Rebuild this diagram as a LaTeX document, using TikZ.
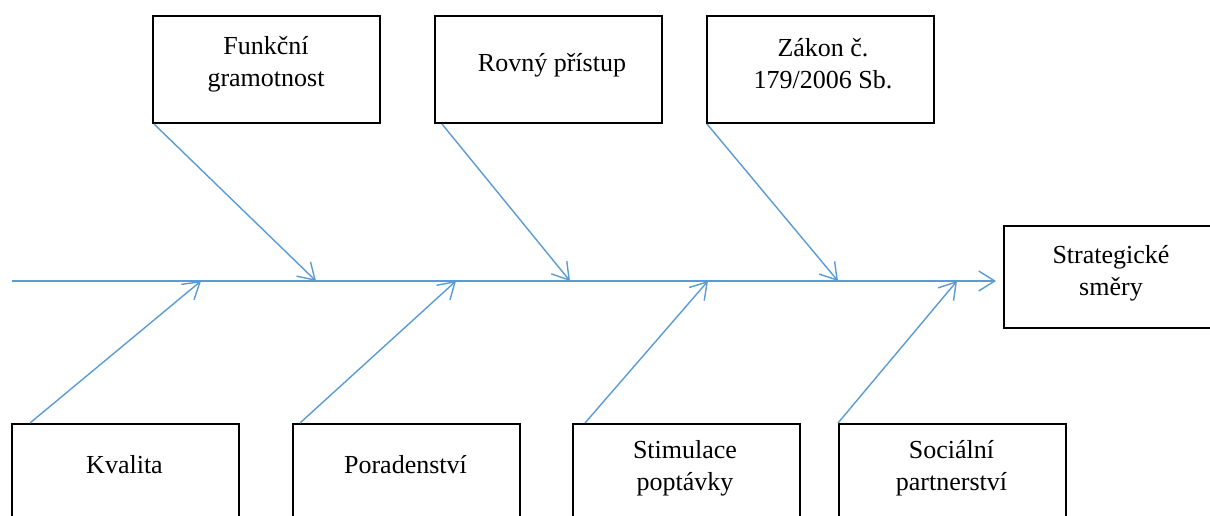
\documentclass[tikz,border=0pt]{standalone}
\usepackage{fontspec}
\setmainfont{Liberation Serif}
\usetikzlibrary{arrows.meta,calc}
\definecolor{bone}{RGB}{91,155,213}
\begin{document}
\begin{tikzpicture}[x=1pt,y=-1pt,
  box/.style={draw=black,line width=2pt,rectangle,inner sep=0pt},
  topbox/.style={box,minimum width=227pt,minimum height=107pt},
  botbox/.style={box,minimum width=227pt,minimum height=110pt,anchor=north west},
  txt/.style={align=center,font=\fontsize{26}{32}\selectfont,inner sep=0pt},
  bone/.style={draw=bone,line width=1.4pt,-{Straight Barb[length=16pt,width=20pt,line width=1.4pt]}}]
\useasboundingbox (0,0) rectangle (1210,515);
\begin{scope}
\clip (0,0) rectangle (1210,515);
% top boxes
\node[topbox] (f) at (266.5,69.5) {};
\node[txt] at (266,64) {Funkční\\gramotnost};
\node[topbox] (r) at (548.5,69.5) {};
\node[txt] at (552,65) {Rovný přístup};
\node[topbox] (z) at (820.5,69.5) {};
\node[txt] at (823,64) {Zákon č.\\179/2006 Sb.};
% head
\node[box,minimum width=214pt,minimum height=102pt] (s) at (1111,277) {};
\node[txt] at (1111,273) {Strategické\\směry};
% bottom boxes
\node[botbox] (k) at (11,423) {};
\node[txt] at (124.5,465) {Kvalita};
\node[botbox] (p) at (292,423) {};
\node[txt] at (405.5,465) {Poradenství};
\node[botbox] (st) at (572,423) {};
\node[txt] at (685,468) {Stimulace\\poptávky};
\node[botbox] (so) at (838,423) {};
\node[txt] at (951.5,468) {Sociální\\partnerství};
% spine
\coordinate (tail) at (12,281);
\coordinate (tip) at (996,281);
\draw[bone] (tail) -- (tip);
\coordinate (f1) at (316,281);
\coordinate (r1) at (570,281);
\coordinate (z1) at (838,281);
\coordinate (k1) at (201,281);
\coordinate (p1) at (456,281);
\coordinate (st1) at (708,281);
\coordinate (so1) at (957,281);
\draw[bone] ($(f.south west)+(2,0)$) -- (f1);
\draw[bone] ($(r.south west)+(8,0)$) -- (r1);
\draw[bone] ($(z.south west)+(1,0)$) -- (z1);
\draw[bone] ($(k.north west)+(19,0)$) -- (k1);
\draw[bone] ($(p.north west)+(8,0)$) -- (p1);
\draw[bone] ($(st.north west)+(13,0)$) -- (st1);
\draw[bone] ($(so.north west)+(0,0)$) -- (so1);
\end{scope}
\end{tikzpicture}
\end{document}
